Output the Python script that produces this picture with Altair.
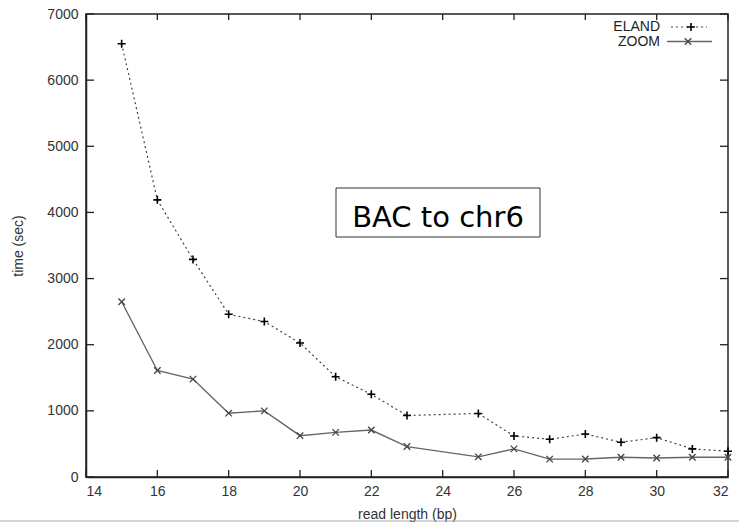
import altair as alt
import pandas as pd

# ---- data ----
read_length = [15, 16, 17, 18, 19, 20, 21, 22, 23, 25, 26, 27, 28, 29, 30, 31, 32]
eland_time = [6550, 4190, 3290, 2460, 2350, 2025, 1515, 1250, 930, 960, 620, 570, 650, 525, 595, 425, 390]
zoom_time = [2650, 1610, 1480, 965, 1000, 625, 675, 710, 460, 305, 425, 270, 272, 298, 288, 298, 298]
x_ticks = [14, 16, 18, 20, 22, 24, 26, 28, 30, 32]
y_ticks = [0, 1000, 2000, 3000, 4000, 5000, 6000, 7000]
legend_labels = ["ELAND", "ZOOM"]
annotation = ["BAC to chr6"]

W, H = 642, 463
FONT = "Liberation Sans"

eland_df = pd.DataFrame({"length": read_length, "time": eland_time})
zoom_df = pd.DataFrame({"length": read_length, "time": zoom_time})
xt_df = pd.DataFrame({"length": x_ticks})
yt_df = pd.DataFrame({"time": y_ticks})

xscale = alt.Scale(domain=[14, 32], nice=False, zero=False)
yscale = alt.Scale(domain=[0, 7000], nice=False)

PLUS = "M-1,0L1,0M0,-1L0,1"
CROSS = "M-1,-1L1,1M-1,1L1,-1"

x_axis = alt.Axis(values=x_ticks, title="read length (bp)", ticks=False, grid=False, format="d",
                  labelPadding=7, titleY=37, titleBaseline="middle")
y_axis = alt.Axis(values=y_ticks, title="time (sec)", ticks=False, grid=False, format="d",
                  labelPadding=8, titleX=-68, titleY=H / 2, titleBaseline="middle")
x_enc = alt.X("length:Q", scale=xscale, axis=x_axis)
y_enc = alt.Y("time:Q", scale=yscale, axis=y_axis)

eland_line = alt.Chart(eland_df).mark_line(color="#444", strokeDash=[2, 3], strokeWidth=1.2).encode(x=x_enc, y=y_enc)
eland_pts = alt.Chart(eland_df).mark_point(shape=PLUS, size=64, filled=False, stroke="#000",
                                           strokeWidth=1.6, opacity=1).encode(x=x_enc, y=y_enc)
zoom_line = alt.Chart(zoom_df).mark_line(color="#666", strokeWidth=1.4).encode(x=x_enc, y=y_enc)
zoom_pts = alt.Chart(zoom_df).mark_point(shape=CROSS, size=42, filled=False, stroke="#444",
                                         strokeWidth=1.3, opacity=1).encode(x=x_enc, y=y_enc)

# inward ticks on all four sides (gnuplot style)
tick_col = "#222"
bottom_ticks = alt.Chart(xt_df).mark_rule(color=tick_col, strokeWidth=1.3).encode(
    x=x_enc, y=alt.value(H), y2=alt.value(H - 7))
top_ticks = alt.Chart(xt_df).mark_rule(color=tick_col, strokeWidth=1.3).encode(
    x=x_enc, y=alt.value(0), y2=alt.value(6))
left_ticks = alt.Chart(yt_df).mark_rule(color=tick_col, strokeWidth=1.3).encode(
    y=y_enc, x=alt.value(0), x2=alt.value(8))
right_ticks = alt.Chart(yt_df).mark_rule(color=tick_col, strokeWidth=1.3).encode(
    y=y_enc, x=alt.value(W), x2=alt.value(W - 8))

# legend (top-right, inside)
leg_e_df = pd.DataFrame({"label": [legend_labels[0]]})
leg_z_df = pd.DataFrame({"label": [legend_labels[1]]})
leg_e_text = alt.Chart(leg_e_df).mark_text(align="right", baseline="middle", font=FONT, fontSize=14,
                                           color="#222").encode(text="label:N", x=alt.value(574), y=alt.value(13))
leg_e_line = alt.Chart(leg_e_df).mark_rule(color="#444", strokeDash=[2, 3], strokeWidth=1.2).encode(
    x=alt.value(585), x2=alt.value(621), y=alt.value(13))
leg_e_pt = alt.Chart(leg_e_df).mark_point(shape=PLUS, size=64, filled=False, stroke="#000",
                                          strokeWidth=1.6, opacity=1).encode(x=alt.value(605), y=alt.value(13))
leg_z_text = alt.Chart(leg_z_df).mark_text(align="right", baseline="middle", font=FONT, fontSize=14,
                                           color="#222").encode(text="label:N", x=alt.value(574), y=alt.value(27.5))
leg_z_line = alt.Chart(leg_z_df).mark_rule(color="#666", strokeWidth=1.4).encode(
    x=alt.value(581), x2=alt.value(626), y=alt.value(27.5))
leg_z_pt = alt.Chart(leg_z_df).mark_point(shape=CROSS, size=42, filled=False, stroke="#444",
                                          strokeWidth=1.3, opacity=1).encode(x=alt.value(602), y=alt.value(27.5))

# annotation box
ann_df = pd.DataFrame({"label": annotation})
ann_box = alt.Chart(ann_df).mark_rect(fill="white", stroke="#333", strokeWidth=1).encode(
    x=alt.value(250), x2=alt.value(454), y=alt.value(174), y2=alt.value(223))
ann_text = alt.Chart(ann_df).mark_text(align="center", baseline="alphabetic", font="DejaVu Sans",
                                       fontSize=29, color="#000").encode(
    text="label:N", x=alt.value(352), y=alt.value(212.5))

# slide border line at the bottom
border = alt.Chart(ann_df).mark_rule(color="#aaa", strokeWidth=1.2).encode(
    x=alt.value(-86), x2=alt.value(W + 11), y=alt.value(H + 44))

chart = alt.layer(
    eland_line, zoom_line, eland_pts, zoom_pts,
    bottom_ticks, top_ticks, left_ticks, right_ticks,
    leg_e_line, leg_e_pt, leg_e_text, leg_z_line, leg_z_pt, leg_z_text,
    ann_box, ann_text, border,
).properties(
    width=W, height=H,
    autosize=alt.AutoSizeParams(type="none"),
    padding={"left": 86, "top": 14, "right": 11, "bottom": 45},
    background="white",
).configure_view(
    stroke="#222", strokeWidth=1.5
).configure_axis(
    domainColor="#222", domainWidth=1.5,
    labelFont=FONT, labelFontSize=14, labelColor="#333",
    titleFont=FONT, titleFontSize=14, titleFontWeight="normal", titleColor="#333",
)

chart.save("out.html", embed_options={"renderer": "svg", "actions": False})
